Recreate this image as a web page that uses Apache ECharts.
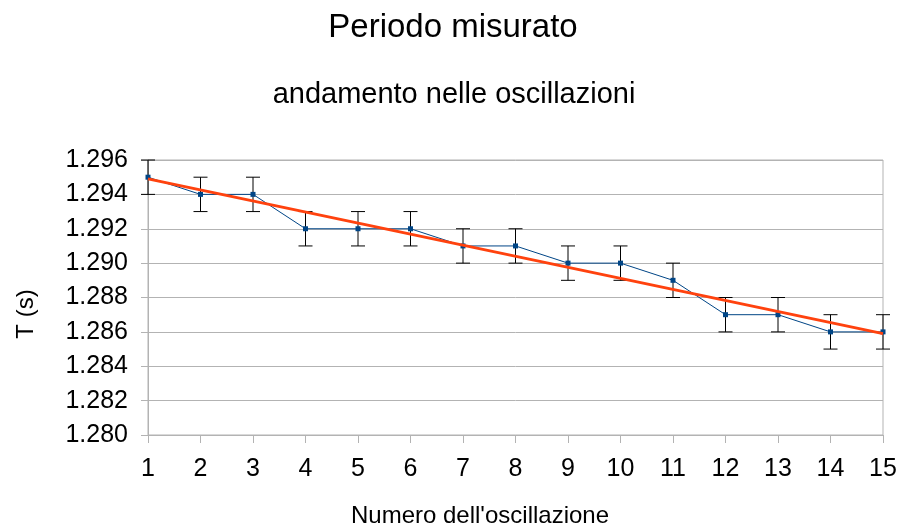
<!DOCTYPE html>
<html><head><meta charset="utf-8">
<script src="https://cdn.jsdelivr.net/npm/echarts@6/dist/echarts.min.js"></script>
<style>html,body{margin:0;padding:0;background:#fff}#c{width:909px;height:525px}</style>
</head><body><div id="c"></div>
<script>
const oscillations = [1,2,3,4,5,6,7,8,9,10,11,12,13,14,15];
const periods = [1.295,1.294,1.294,1.292,1.292,1.292,1.291,1.291,1.290,1.290,1.289,1.287,1.287,1.286,1.286];
const errors = [0.001,0.001,0.001,0.001,0.001,0.001,0.001,0.001,0.001,0.001,0.001,0.001,0.001,0.001,0.001];
const yTicks = [1.280,1.282,1.284,1.286,1.288,1.290,1.292,1.294,1.296];

// linear regression trend
const n = oscillations.length;
const mx = oscillations.reduce((a,b)=>a+b,0)/n;
const my = periods.reduce((a,b)=>a+b,0)/n;
let sxy=0,sxx=0;
for(let i=0;i<n;i++){sxy+=(oscillations[i]-mx)*(periods[i]-my);sxx+=(oscillations[i]-mx)**2;}
const slope=sxy/sxx, icpt=my-slope*mx;
const xs=[oscillations[0],oscillations[n-1]];
const trend = xs.map(x=>[x, icpt+slope*x]);

const font='"Liberation Sans", Arial, sans-serif';
const chart = echarts.init(document.getElementById('c'),null,{renderer:'canvas'});
chart.setOption({
  animation:false,
  backgroundColor:'#fff',
  graphic:[
    {type:'text',x:453,y:28,style:{text:'Periodo misurato',font:'33px '+font,fill:'#000',textAlign:'center',textVerticalAlign:'middle'}},
    {type:'text',x:454,y:95,style:{text:'andamento nelle oscillazioni',font:'29px '+font,fill:'#000',textAlign:'center',textVerticalAlign:'middle'}},
    {type:'text',x:480,y:516,style:{text:"Numero dell'oscillazione",font:'24px '+font,fill:'#000',textAlign:'center',textVerticalAlign:'middle'}},
    {type:'text',x:26,y:314,rotation:Math.PI/2,style:{text:'T (s)',font:'24px '+font,fill:'#000',textAlign:'center',textVerticalAlign:'middle'}}
  ],
  grid:{left:148,right:26,top:160,bottom:90,show:true,borderColor:'#b3b3b3',borderWidth:1},
  xAxis:{type:'value',min:1,max:15,interval:1,
    axisLine:{show:true,lineStyle:{color:'#b3b3b3'}},
    axisTick:{show:true,length:8,lineStyle:{color:'#b3b3b3'}},
    axisLabel:{fontFamily:font,fontSize:25,color:'#000',margin:22},
    splitLine:{show:false}},
  yAxis:{type:'value',min:yTicks[0],max:yTicks[yTicks.length-1],interval:0.002,
    axisLine:{show:true,lineStyle:{color:'#b3b3b3'}},
    axisTick:{show:true,length:7,lineStyle:{color:'#b3b3b3'}},
    axisLabel:{fontFamily:font,fontSize:25,color:'#000',margin:20,formatter:v=>v.toFixed(3)},
    splitLine:{show:true,lineStyle:{color:'#b3b3b3'}}},
  series:[
    {type:'line',data:oscillations.map((x,i)=>[x,periods[i]]),
      lineStyle:{color:'#004586',width:1},itemStyle:{color:'#004586'},
      symbol:'rect',symbolSize:5,showSymbol:true,z:3},
    {type:'custom',z:2,
      data:oscillations.map((x,i)=>[x,periods[i]-errors[i],periods[i]+errors[i]]),
      renderItem:function(params,api){
        const lo=api.coord([api.value(0),api.value(1)]);
        const hi=api.coord([api.value(0),api.value(2)]);
        const w=7;
        const st={stroke:'#000',lineWidth:1};
        return {type:'group',children:[
          {type:'line',shape:{x1:lo[0],y1:lo[1],x2:hi[0],y2:hi[1]},style:st},
          {type:'line',shape:{x1:lo[0]-w,y1:lo[1],x2:lo[0]+w,y2:lo[1]},style:st},
          {type:'line',shape:{x1:hi[0]-w,y1:hi[1],x2:hi[0]+w,y2:hi[1]},style:st}
        ]};
      }},
    {type:'line',data:trend,symbol:'none',lineStyle:{color:'#ff420e',width:3},z:4}
  ]
});
</script></body></html>
